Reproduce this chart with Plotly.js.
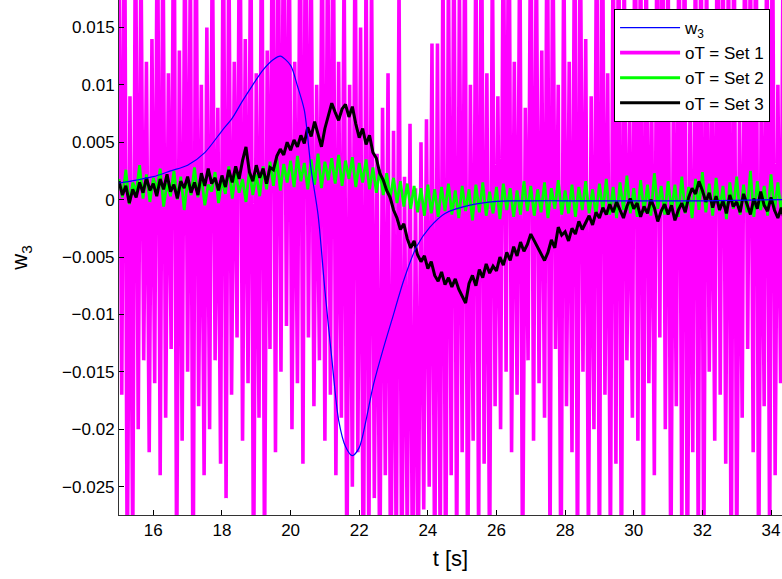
<!DOCTYPE html>
<html>
<head>
<meta charset="utf-8">
<script src="https://cdn.plot.ly/plotly-3.0.1.min.js"></script>
<style>html,body{margin:0;padding:0;background:#fff;}#chart{width:782px;height:579px;}</style>
</head>
<body>
<div id="chart"></div>
<script>
// ---- data ----
// w3 (reference response)
const w3T = [15, 15.5, 16, 16.5, 17, 17.5, 18, 18.3, 18.6, 18.9, 19.2, 19.5, 19.7, 20.0, 20.2, 20.4, 20.6, 20.8, 21.0, 21.2, 21.4, 21.6, 21.8, 22.0, 22.2, 22.4, 22.7, 22.95, 23.3, 23.67, 24.06, 24.5, 25.2, 26, 27, 28, 30, 32, 34.4];
const w3V = [0.00145, 0.0017, 0.002, 0.0025, 0.003, 0.0041, 0.006, 0.0071, 0.0086, 0.0100, 0.0113, 0.0122, 0.0125, 0.0117, 0.0099, 0.0078, 0.0026, -0.0013, -0.0079, -0.0138, -0.0192, -0.0215, -0.0223, -0.0216, -0.0192, -0.0163, -0.0130, -0.0105, -0.0070, -0.0041, -0.0024, -0.0012, -0.0005, -0.00015, -0.0001, -0.0001, -0.0001, -0.0001, 0];

// oT = Set 1 (sampled every 0.08 s from t = 15)
const set1Start = 15, set1Step = 0.08;
const set1V = [
0.024,-0.017, 0.031,-0.034, 0.009,-0.031, 0.027,-0.020, 0.022,-0.014, 0.012,-0.022, 0.014,-0.016, 0.029,-0.024, 0.025,-0.019, 0.011,-0.013,
0.033,-0.033, 0.013,-0.021, 0.026,-0.015, 0.021,-0.036, 0.030,-0.018, 0.010,-0.024, 0.015,-0.020, 0.024,-0.014, 0.008,-0.023, 0.028,-0.026,
0.023,-0.017, 0.012,-0.012, 0.032,-0.021, 0.014,-0.016, 0.027,-0.035, 0.011,-0.019, 0.030,-0.032, 0.013,-0.013, 0.035,-0.022, 0.026,-0.015,
0.031,-0.011, 0.024,-0.020, 0.012,-0.016, 0.029,-0.023, 0.033,-0.012, 0.022,-0.018, 0.010,-0.014, 0.027,-0.021, 0.025,-0.017, 0.030,-0.024,
0.012,-0.019, 0.021,-0.033, 0.010,-0.025, 0.025,-0.022, 0.015,-0.037, 0.022,-0.031, 0.020,-0.026, 0.004,-0.034, 0.008,-0.024, 0.011,-0.038,
0.006,-0.032, 0.019,-0.035, 0.002,-0.030, 0.0066,-0.039, 0.001,-0.033, 0.005,-0.027, 0.007,-0.025, 0.0136,-0.034, 0.0136,-0.031, 0.022,-0.036,
0.021,-0.024, 0.026,-0.032, 0.019,-0.022, 0.028,-0.035, 0.010,-0.021, 0.024,-0.030, 0.030,-0.023, 0.011,-0.033, 0.022,-0.018, 0.009,-0.020,
0.027,-0.015, 0.032,-0.022, 0.012,-0.017, 0.025,-0.034, 0.008,-0.014, 0.029,-0.021, 0.023,-0.016, 0.013,-0.019, 0.031,-0.031, 0.026,-0.013,
0.010,-0.036, 0.024,-0.018, 0.012,-0.022, 0.030,-0.033, 0.027,-0.015, 0.014,-0.030, 0.009,-0.020, 0.028,-0.034, 0.033,-0.017, 0.011,-0.031,
0.025,-0.023, 0.029,-0.035, 0.022,-0.014, 0.008,-0.019, 0.031,-0.021, 0.026,-0.032, 0.024,-0.016, 0.010,-0.024, 0.028,-0.012, 0.032,-0.020,
0.023,-0.034, 0.012,-0.018, 0.027,-0.030, 0.030,-0.036, 0.009,-0.022, 0.025,-0.031, 0.029,-0.033, 0.022,-0.015, 0.011,-0.021, 0.033,-0.017,
0.026,-0.023, 0.024,-0.035, 0.030,-0.032, 0.007,-0.019, 0.028,-0.013, 0.023,-0.022, 0.031,-0.034, 0.012,-0.018, 0.026,-0.031, 0.029,-0.024,
0.010,-0.016, 0.027,-0.020
];

// oT = Set 2 (sampled every 0.1 s from t = 15)
const set2Start = 15, set2Step = 0.1;
const set2V = [
0.0018,0.0002,0.0026,-0.0004,0.0015,0.0006,0.0030,0.0001,0.0022,-0.0002,0.0019,0.0008,0.0027,-0.0006,0.0014,0.0003,0.0025,0.0000,0.0020,-0.0009,
0.0016,0.0004,0.0028,0.0002,0.0021,-0.0005,0.0013,0.0007,0.0024,-0.0003,0.0017,0.0005,0.0029,0.0001,0.0023,0.0006,0.0018,-0.0002,0.0026,0.0004,
0.0022,0.0003,0.0029,0.0009,0.0033,0.0012,0.0036,0.0008,0.0031,0.0015,0.0034,0.0011,0.0038,0.0016,0.0032,0.0009,0.0035,0.0013,0.0040,0.0010,
0.0033,0.0017,0.0036,0.0014,0.0039,0.0012,0.0034,0.0018,0.0037,0.0011,0.0032,0.0015,0.0035,0.0009,0.0028,0.0006,0.0026,0.0004,0.0023,0.0001,
0.0019,-0.0003,0.0016,-0.0006,0.0014,-0.0008,0.0012,-0.0011,0.0010,-0.0014,0.0013,-0.0012,0.0009,-0.0015,0.0011,-0.0010,0.0014,-0.0013,0.0008,-0.0016,
0.0012,-0.0010,0.0009,-0.0018,0.0013,-0.0011,0.0015,-0.0014,0.0007,-0.0012,0.0011,-0.0017,0.0014,-0.0009,0.0010,-0.0015,0.0008,-0.0013,0.0016,-0.0010,
0.0012,-0.0014,0.0009,-0.0011,0.0015,-0.0016,0.0010,-0.0008,0.0017,-0.0013,0.0008,-0.0012,0.0013,-0.0015,0.0011,-0.0009,0.0016,-0.0012,0.0009,-0.0014,
0.0014,-0.0010,0.0018,-0.0013,0.0011,-0.0016,0.0015,-0.0009,0.0021,-0.0012,0.0010,-0.0015,0.0017,-0.0011,0.0013,-0.0014,0.0023,-0.0008,0.0012,-0.0013,
0.0016,-0.0010,0.0013,-0.0015,0.0020,-0.0012,0.0011,-0.0016,0.0018,-0.0009,0.0024,-0.0011,0.0014,-0.0014,0.0019,-0.0010,0.0012,-0.0017,0.0015,-0.0008,
0.0020,-0.0013,0.0013,-0.0011,0.0025,-0.0015,0.0016,-0.0009,0.0012,-0.0014,0.0022,-0.0010,0.0015,-0.0012,0.0017
];

// oT = Set 3 (sampled every 0.1 s from t = 15)
const set3Start = 15, set3Step = 0.1;
const set3V = [
0.0016,0.0004,0.0012,-0.0003,0.0009,0.0002,0.0015,0.0006,0.0019,0.0008,
0.0014,0.0003,0.0018,0.0009,0.0022,0.0007,0.0013,0.0001,0.0016,0.0010,
0.0020,0.0006,0.0015,0.0004,0.0023,0.0012,0.0027,0.0014,0.0019,0.0008,
0.0021,0.0011,0.0026,0.0015,0.0029,0.0018,0.0034,0.0046,0.0024,0.0016,
0.0030,0.0019,0.0027,0.0014,0.0028,0.0026,0.0038,0.0044,0.0039,0.0050,
0.0043,0.0052,0.0046,0.0056,0.0049,0.0063,0.0055,0.0068,0.0057,0.0046,
0.0062,0.0074,0.0084,0.0076,0.0069,0.0079,0.0083,0.0072,0.0081,0.0066,
0.0054,0.0062,0.0048,0.0056,0.0041,0.0036,0.0023,0.0017,0.0008,0.0002,
-0.0009,-0.0016,-0.0026,-0.0021,-0.0034,-0.0042,-0.0036,-0.0048,-0.0054,-0.0049,
-0.0060,-0.0054,-0.0066,-0.0071,-0.0063,-0.0074,-0.0068,-0.0076,-0.0069,-0.0078,
-0.0084,-0.0090,-0.0073,-0.0066,-0.0075,-0.0061,-0.0068,-0.0056,-0.0064,-0.0058,
-0.0062,-0.0050,-0.0057,-0.0046,-0.0053,-0.0041,-0.0049,-0.0037,-0.0045,-0.0039,
-0.0030,-0.0036,-0.0041,-0.0048,-0.0053,-0.0046,-0.0035,-0.0042,-0.0024,-0.0031,
-0.0028,-0.0036,-0.0025,-0.0030,-0.0019,-0.0026,-0.0020,-0.0014,-0.0022,-0.0011,
-0.0016,-0.0007,-0.0013,-0.0004,-0.0011,-0.0002,-0.0009,-0.0016,-0.0006,0.0001,
-0.0008,-0.0003,-0.0015,-0.0006,-0.0012,0.0000,-0.0007,-0.0019,-0.0010,-0.0004,
-0.0013,-0.0005,-0.0018,-0.0009,-0.0003,-0.0011,0.0002,0.0010,0.0005,0.0016,
0.0008,-0.0002,0.0006,-0.0007,0.0003,-0.0009,-0.0001,-0.0012,0.0004,-0.0006,
-0.0002,-0.0011,0.0005,-0.0004,-0.0013,0.0001,-0.0008,0.0007,-0.0005,-0.0010,
0.0002,-0.0009,-0.0016,-0.0007,-0.0019
];

// axis ticks
const xTicks = [16, 18, 20, 22, 24, 26, 28, 30, 32, 34];
const yTicks = [-0.025, -0.02, -0.015, -0.01, -0.005, 0, 0.005, 0.01, 0.015];
const yTickText = ['\u22120.025', '\u22120.02', '\u22120.015', '\u22120.01', '\u22120.005', '0', '0.005', '0.01', '0.015'];

const FONT = 'Liberation Sans, Arial, Helvetica, sans-serif';

const traces = [
  {type: 'scatter', mode: 'lines', name: 'oT = Set 1', x0: set1Start, dx: set1Step, y: set1V,
   line: {color: '#ff00ff', width: 3.6}, legendrank: 2, hoverinfo: 'skip'},
  {type: 'scatter', mode: 'lines', name: 'oT = Set 2', x0: set2Start, dx: set2Step, y: set2V,
   line: {color: '#00ff00', width: 2.8}, legendrank: 3, hoverinfo: 'skip'},
  {type: 'scatter', mode: 'lines', name: 'oT = Set 3', x0: set3Start, dx: set3Step, y: set3V,
   line: {color: '#000000', width: 3}, legendrank: 4, hoverinfo: 'skip'},
  {type: 'scatter', mode: 'lines', name: 'w<sub>3</sub>', x: w3T, y: w3V,
   line: {color: '#0000ff', width: 1.2, shape: 'spline', smoothing: 0.8}, legendrank: 1, hoverinfo: 'skip'}
];

const layout = {
  width: 782, height: 579,
  margin: {l: 119, r: 0, t: 0, b: 64, pad: 0},
  paper_bgcolor: '#ffffff', plot_bgcolor: '#ffffff',
  font: {family: FONT, size: 17, color: '#000000'},
  showlegend: true,
  legend: {
    x: 0.982, xanchor: 'right', y: 0.9825, yanchor: 'top',
    bgcolor: '#ffffff', bordercolor: '#000000', borderwidth: 1,
    font: {family: FONT, size: 17, color: '#000000'},
    itemwidth: 60, tracegroupgap: 0
  },
  xaxis: {
    range: [15, 34.32], tickmode: 'array', tickvals: xTicks,
    ticks: 'inside', ticklen: 5, tickwidth: 1, tickcolor: '#000000',
    showline: true, linecolor: '#333333', linewidth: 1,
    showgrid: false, zeroline: false,
    tickfont: {family: FONT, size: 17, color: '#000000'},
    title: {text: 't [s]', font: {family: FONT, size: 22, color: '#000000'}, standoff: 11}
  },
  yaxis: {
    range: [-0.02747, 0.01739], tickmode: 'array', tickvals: yTicks, ticktext: yTickText,
    ticks: 'inside', ticklen: 5, tickwidth: 1, tickcolor: '#000000',
    showline: true, linecolor: '#333333', linewidth: 1,
    showgrid: false, zeroline: false,
    tickfont: {family: FONT, size: 17, color: '#000000'},
    title: {text: 'w<sub>3</sub>', font: {family: FONT, size: 22, color: '#000000'}, standoff: 28}
  }
};

Plotly.newPlot('chart', traces, layout, {staticPlot: true, displayModeBar: false});
</script>
</body>
</html>
